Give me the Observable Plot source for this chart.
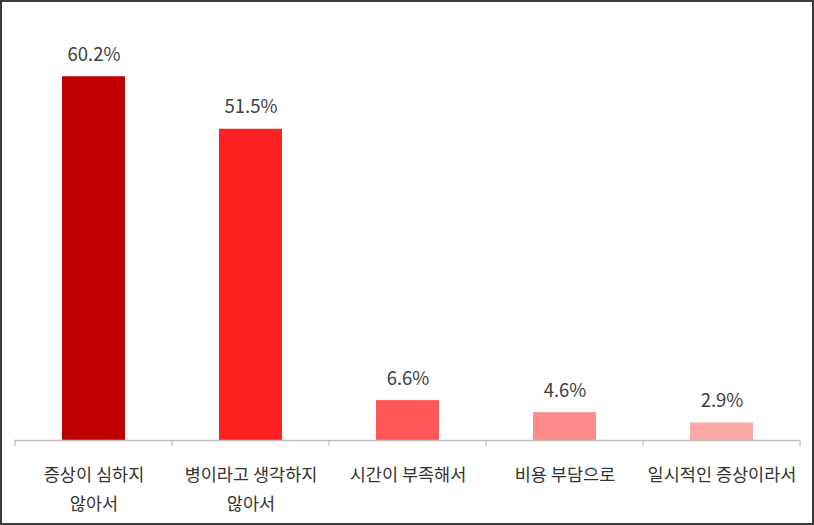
<!DOCTYPE html>
<html>
<head>
<meta charset="utf-8">
<script src="https://cdn.jsdelivr.net/npm/d3@7"></script>
<script src="https://cdn.jsdelivr.net/npm/@observablehq/plot@0.6"></script>
<style>
  html, body { margin: 0; padding: 0; background: #fff; }
  #wrap { position: relative; width: 814px; height: 525px; overflow: hidden; }
  #frame { position: absolute; left: 0; top: 0; width: 814px; height: 525px; box-sizing: border-box; border: 2px solid #3a3a3a; pointer-events: none; }
  svg { display: block; }
</style>
</head>
<body>
<div id="wrap"><div id="chart"></div><div id="frame"></div></div>
<script>
const categories = ["증상이 심하지\n않아서", "병이라고 생각하지\n않아서", "시간이 부족해서", "비용 부담으로", "일시적인 증상이라서"];
const values = [60.2, 51.5, 6.6, 4.6, 2.9];
const valueLabels = ["60.2%", "51.5%", "6.6%", "4.6%", "2.9%"];
const colors = ["#C00000", "#FF2121", "#FF5757", "#FF8B8B", "#FFA8A8"];

const data = categories.map((c, i) => ({cat: c, value: values[i], label: valueLabels[i], color: colors[i]}));

const font = "'Noto Sans CJK KR', 'Noto Sans', sans-serif";

// category boundary ticks drawn from the band scale
function boundaryTicks(index, scales, values, dimensions) {
  const x = scales.x;
  const step = x.step ? x.step() : x.bandwidth() / 0.4;
  const bw = x.bandwidth();
  const y0 = scales.y(0);
  const g = d3.create("svg:g");
  const xs = categories.map(c => x(c) + bw / 2 - step / 2);
  xs.push(x(categories[categories.length - 1]) + bw / 2 + step / 2);
  for (const xv of xs) {
    g.append("line")
      .attr("x1", xv).attr("x2", xv)
      .attr("y1", y0).attr("y2", y0 + 6)
      .attr("stroke", "#bfbfbf").attr("stroke-width", 1.3);
  }
  return g.node();
}

const chart = Plot.plot({
  width: 814,
  height: 525,
  marginLeft: 14,
  marginRight: 14,
  marginTop: 17,
  marginBottom: 85,
  style: {fontFamily: font, background: "#fff"},
  x: {domain: categories, paddingInner: 0.6, paddingOuter: 0.3, axis: null},
  y: {domain: [0, 70], axis: null},
  marks: [
    Plot.barY(data, {x: "cat", y: "value", fill: "color"}),
    Plot.ruleY([0], {stroke: "#bfbfbf", strokeWidth: 1.3}),
    boundaryTicks,
    Plot.text(data, {x: "cat", y: "value", text: "label", dy: -22, fontSize: 18.5, fill: "#404040", fontFamily: font, style: "letter-spacing:0.6px"}),
    Plot.text(data, {x: "cat", y: 0, text: "cat", lineAnchor: "top", dy: 19, lineHeight: 1.7, fontSize: 17.5, fill: "#333333", fontFamily: font})
  ]
});
document.getElementById("chart").appendChild(chart);
</script>
</body>
</html>
